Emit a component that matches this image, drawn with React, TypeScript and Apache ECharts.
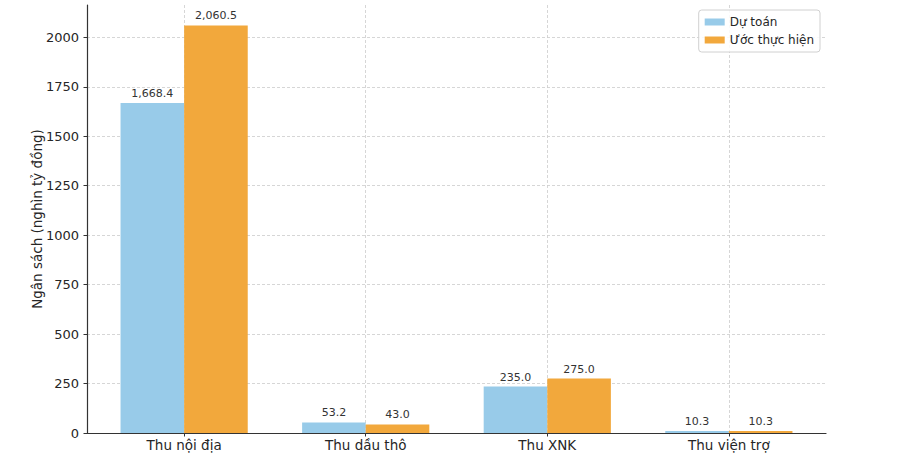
import React, { useEffect, useRef } from "react";
import * as echarts from "echarts";

const categories = ["Thu nội địa", "Thu dầu thô", "Thu XNK", "Thu viện trợ"];
const duToan = [1668.4, 53.2, 235.0, 10.3];
const uocThucHien = [2060.5, 43.0, 275.0, 10.3];
const yTicks = [0, 250, 500, 750, 1000, 1250, 1500, 1750, 2000];
const seriesNames = ["Dự toán", "Ước thực hiện"];
const yAxisName = "Ngân sách (nghìn tỷ đồng)";

const FONT = "DejaVu Sans";
const TEXT = "#262626";

export default function App() {
  const ref = useRef<HTMLDivElement>(null);

  useEffect(() => {
    if (!ref.current) return;
    const chart = echarts.init(ref.current, undefined, { renderer: "svg" });
    const positions = categories.map((_, i) => i);
    const yMax = Math.max(...duToan, ...uocThucHien) * 1.05;
    const fmt = (v: number) =>
      v.toLocaleString("en-US", { minimumFractionDigits: 1, maximumFractionDigits: 1 });

    const labelCfg = {
      show: true,
      position: "top" as const,
      distance: 4,
      color: "#333333",
      fontFamily: FONT,
      fontSize: 11,
      formatter: (p: any) => fmt(p.value[1]),
    };

    chart.setOption({
      animation: false,
      backgroundColor: "#ffffff",
      textStyle: { fontFamily: FONT },
      grid: { left: 87, right: 74, top: 5, bottom: 27, containLabel: false },
      legend: {
        data: seriesNames,
        orient: "vertical",
        right: 80,
        top: 10,
        icon: "rect",
        itemWidth: 20,
        itemHeight: 7,
        itemGap: 4,
        padding: [5, 6, 5, 6],
        borderColor: "#d0d0d0",
        borderWidth: 1,
        borderRadius: 3,
        backgroundColor: "rgba(255,255,255,0.85)",
        textStyle: { fontFamily: FONT, fontSize: 12, color: TEXT, lineHeight: 14 },
      },
      xAxis: {
        type: "value",
        min: -0.535,
        max: 3.535,
        axisLine: { show: true, onZero: false, lineStyle: { color: "#333333", width: 1.2 } },
        axisTick: {
          show: true,
          customValues: positions,
          length: 3.5,
          lineStyle: { color: "#333333", width: 1 },
        },
        axisLabel: {
          customValues: positions,
          formatter: (v: number) => categories[Math.round(v)] ?? "",
          color: TEXT,
          fontFamily: FONT,
          fontSize: 13.5,
          margin: 5,
        },
        splitLine: {
          show: true,
          lineStyle: { color: "#cccccc", type: [3, 2], width: 0.8 },
        },
      },
      yAxis: {
        type: "value",
        min: 0,
        max: yMax,
        name: yAxisName,
        nameLocation: "middle",
        nameGap: 43,
        nameMoveOverlap: false,
        nameRotate: 90,
        nameTextStyle: { fontFamily: FONT, fontSize: 13.5, color: TEXT },
        axisLine: { show: true, onZero: false, lineStyle: { color: "#333333", width: 1.2 } },
        axisTick: {
          show: true,
          customValues: yTicks,
          length: 3.5,
          lineStyle: { color: "#333333", width: 1 },
        },
        axisLabel: {
          customValues: yTicks,
          formatter: (v: number) => String(v),
          color: TEXT,
          fontFamily: FONT,
          fontSize: 13,
          margin: 8,
        },
        splitLine: {
          show: true,
          lineStyle: { color: "#cccccc", type: [3, 2], width: 0.8 },
        },
      },
      series: [
        {
          name: seriesNames[0],
          type: "bar",
          data: duToan.map((v, i) => [positions[i], v]),
          barWidth: 63.6,
          barGap: "0%",
          itemStyle: { color: "#98cbe9" },
          label: labelCfg,
        },
        {
          name: seriesNames[1],
          type: "bar",
          data: uocThucHien.map((v, i) => [positions[i], v]),
          barWidth: 63.6,
          barGap: "0%",
          itemStyle: { color: "#f2a83c" },
          label: labelCfg,
        },
      ],
    });

    return () => chart.dispose();
  }, []);

  return (
    <div
      ref={ref}
      style={{ position: "fixed", left: 0, top: 0, width: 900, height: 460, background: "#fff" }}
    />
  );
}
